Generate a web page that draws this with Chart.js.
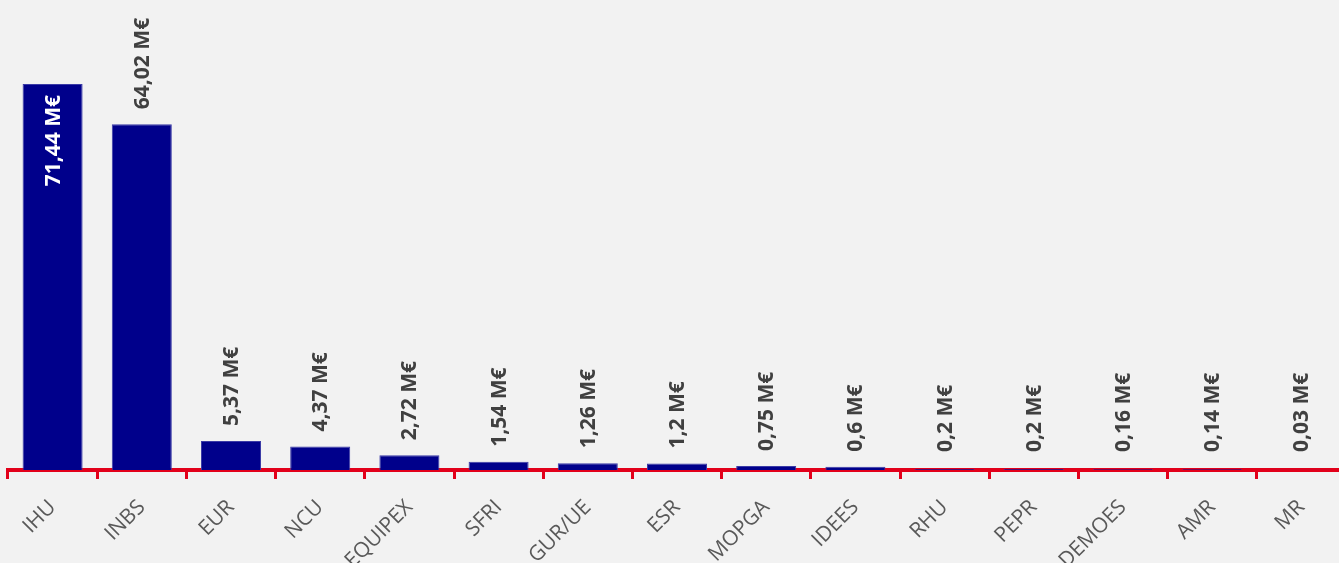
<!DOCTYPE html>
<html lang="fr">
<head>
<meta charset="utf-8">
<title>Financements par programme</title>
<script src="https://cdn.jsdelivr.net/npm/chart.js@4.4.1/dist/chart.umd.min.js"></script>
<style>
  html, body { margin: 0; padding: 0; background: #f2f2f2; overflow: hidden; }
  #wrap { position: relative; width: 1350px; height: 563px; }
</style>
</head>
<body>
<div id="wrap"><canvas id="chart"></canvas></div>
<script>
// Programmes and their funding, in millions of euros
const categories = ['IHU', 'INBS', 'EUR', 'NCU', 'EQUIPEX', 'SFRI', 'GUR/UE', 'ESR', 'MOPGA', 'IDEES', 'RHU', 'PEPR', 'DEMOES', 'AMR', 'MR'];
const amounts = [71.44, 64.02, 5.37, 4.37, 2.72, 1.54, 1.26, 1.2, 0.75, 0.6, 0.2, 0.2, 0.16, 0.14, 0.03];
const yMax = 87;

const NAVY = '#00008b';
const RED = '#e2001a';

function formatAmount(v) {
  return String(v).replace('.', ',') + ' M€';
}

// Vertical value labels: above the bar, or inside it when there is no room
const valueLabels = {
  id: 'valueLabels',
  afterDatasetsDraw(chart) {
    const ctx = chart.ctx;
    const meta = chart.getDatasetMeta(0);
    ctx.save();
    ctx.font = 'bold 21px "Open Sans", sans-serif';
    ctx.textBaseline = 'middle';
    meta.data.forEach((bar, i) => {
      const text = formatAmount(amounts[i]);
      const w = ctx.measureText(text).width;
      const gap = 15;
      ctx.save();
      const inside = bar.y - gap - w < chart.chartArea.top + 4;
      if (inside) {
        ctx.translate(bar.x, bar.y + 11);
        ctx.rotate(-Math.PI / 2);
        ctx.textAlign = 'right';
        ctx.fillStyle = '#ffffff';
      } else {
        ctx.translate(bar.x, Math.min(bar.y, chart.chartArea.bottom - 3) - gap);
        ctx.rotate(-Math.PI / 2);
        ctx.textAlign = 'left';
        ctx.fillStyle = '#404040';
      }
      ctx.fillText(text, 0, 1);
      ctx.restore();
    });
    ctx.restore();
  }
};

new Chart(document.getElementById('chart'), {
  type: 'bar',
  data: {
    labels: categories,
    datasets: [{
      data: amounts,
      backgroundColor: NAVY,
      borderColor: '#3a3aa6',
      borderWidth: 1,
      categoryPercentage: 1,
      barPercentage: 0.673
    }]
  },
  options: {
    responsive: true,
    maintainAspectRatio: false,
    animation: false,
    layout: { padding: { left: 8, right: 4, top: 0, bottom: 0 } },
    plugins: {
      legend: { display: false },
      tooltip: { enabled: false }
    },
    scales: {
      y: {
        display: false,
        min: 0,
        max: yMax
      },
      x: {
        z: 1,
        offset: true,
        border: { display: true, color: RED, width: 4 },
        grid: {
          display: true,
          offset: true,
          drawOnChartArea: false,
          drawTicks: true,
          tickLength: 9,
          color: RED,
          lineWidth: 3
        },
        ticks: {
          color: '#595959',
          font: { family: '"Open Sans", sans-serif', size: 21 },
          maxRotation: 45,
          minRotation: 45,
          padding: 16,
          autoSkip: false
        },
        afterFit(scale) { scale.height = 93; }
      }
    }
  },
  plugins: [valueLabels]
});
</script>
</body>
</html>
